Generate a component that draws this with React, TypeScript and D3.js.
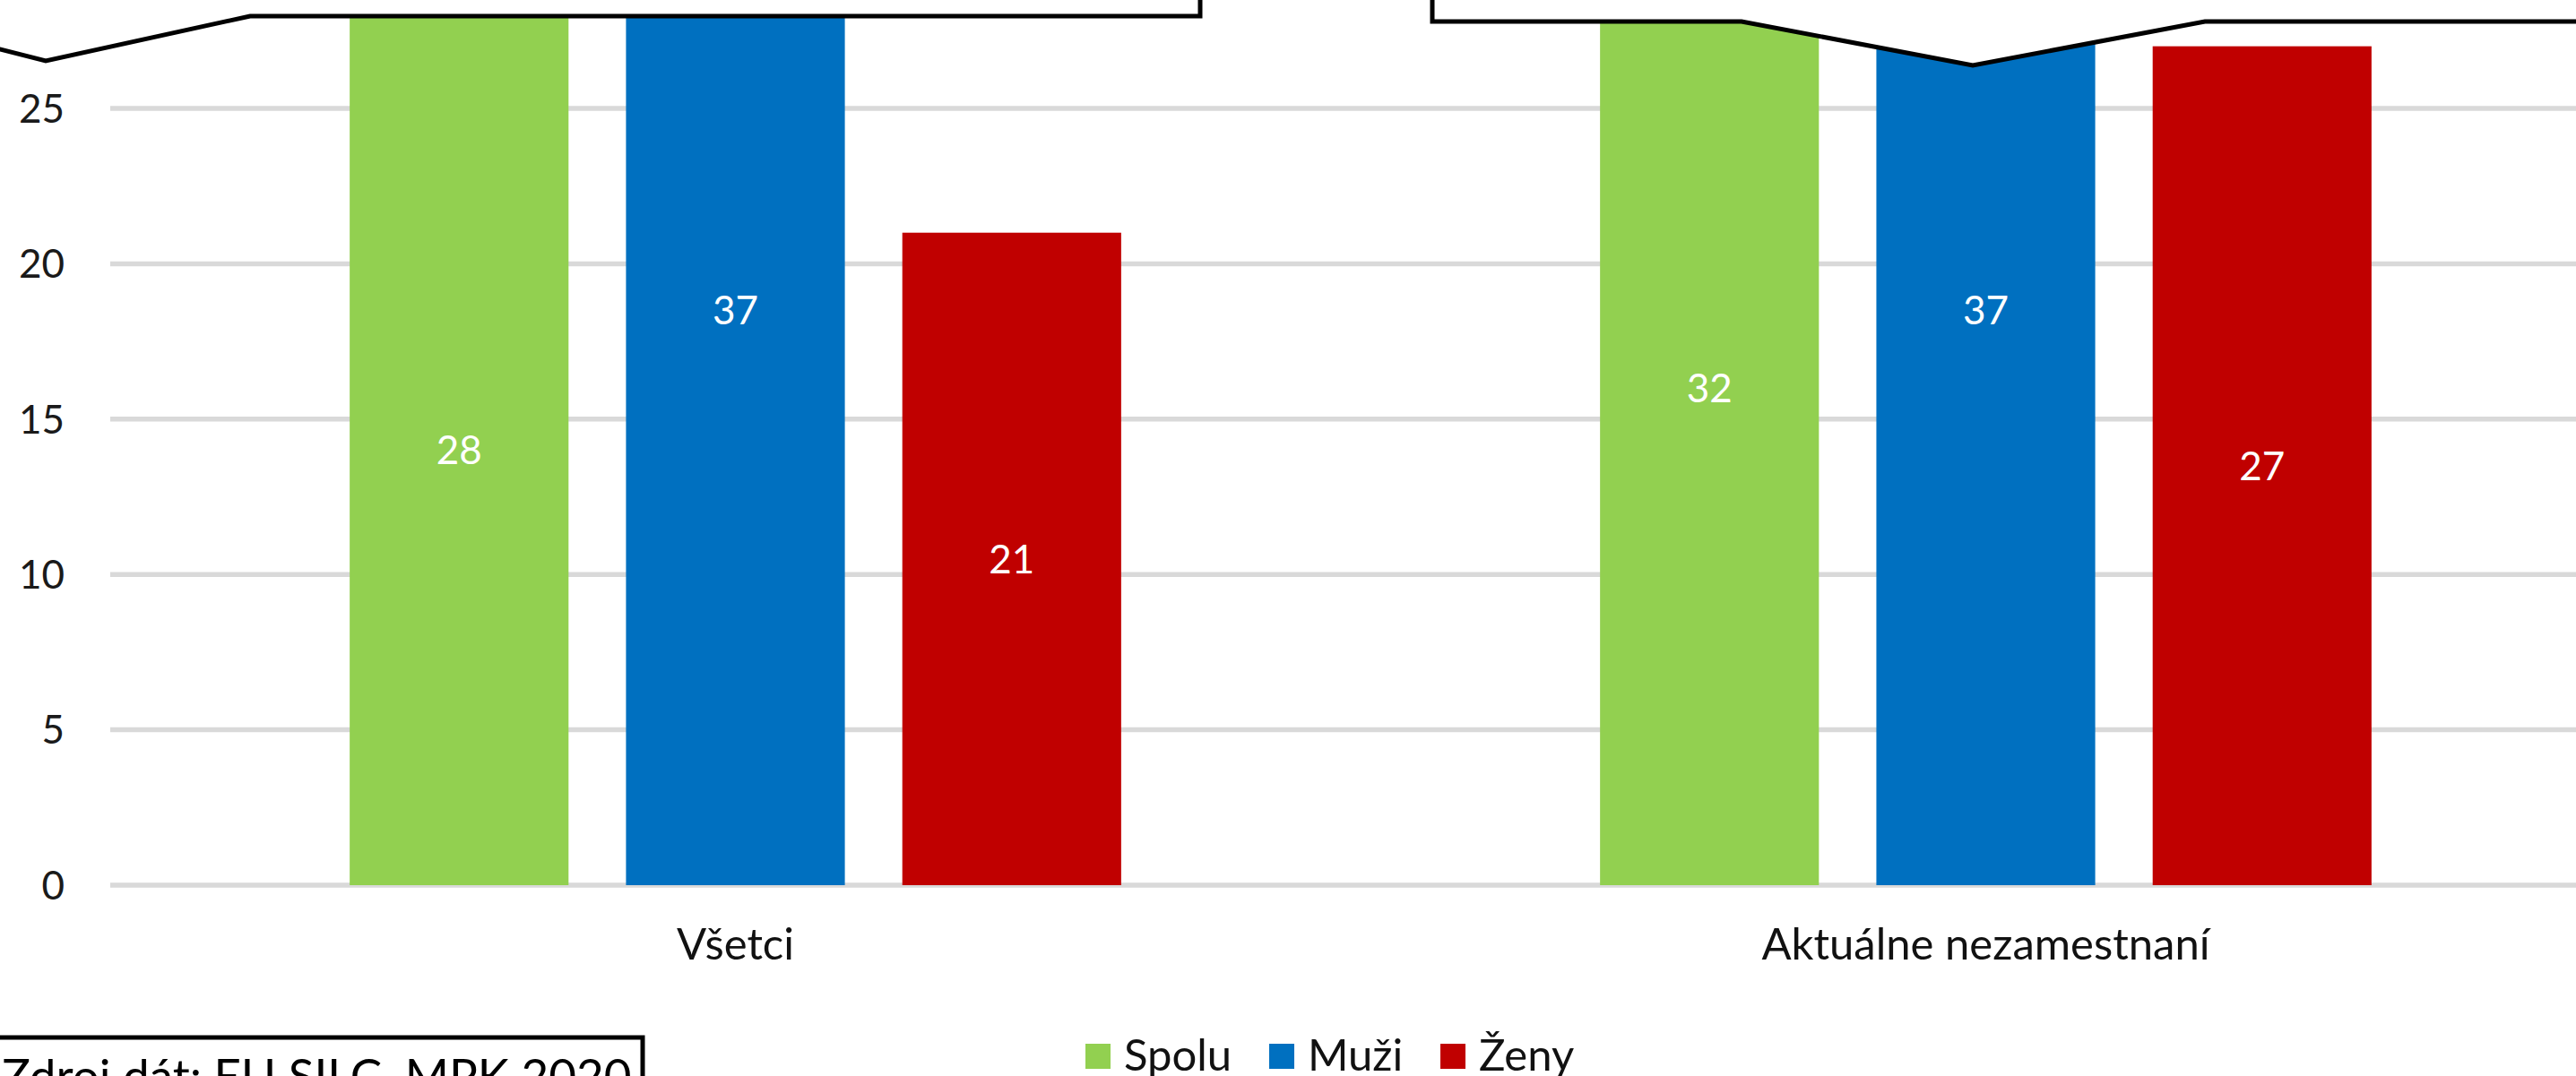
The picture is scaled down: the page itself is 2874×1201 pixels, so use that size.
import * as d3 from 'd3';
import { useEffect, useRef } from 'react';

const categories = ['Všetci', 'Aktuálne nezamestnaní'];
const seriesNames = ['Spolu', 'Muži', 'Ženy'];
const spolu = [28, 32];
const muzi = [37, 37];
const zeny = [21, 27];
const yTicks = [0, 5, 10, 15, 20, 25];
const colors = ['#92D050', '#0070C0', '#C00000'];
const sourceText = 'Zdroj dát: EU SILC, MPK 2020';

const W = 2874;
const H = 1201;
const FONT = 'Lato, "Open Sans", sans-serif';

export default function App() {
  const ref = useRef<SVGSVGElement | null>(null);

  useEffect(() => {
    const values = [spolu, muzi, zeny];
    const rows = categories.map((c, i) => ({
      category: c,
      items: seriesNames.map((s, j) => ({ key: s, value: values[j][i], color: colors[j] })),
    }));

    const plotLeft = 123;
    const x0 = d3.scaleBand().domain(categories).range([plotLeft, 2913]).paddingInner(0.383).paddingOuter(0.1915);
    const x1 = d3.scaleBand().domain(seriesNames).range([0, x0.bandwidth()]).paddingInner(0.208);
    const y = d3.scaleLinear().domain([0, 25]).range([988, 121]);

    const svg = d3.select(ref.current);
    svg.selectAll('*').remove();

    // gridlines
    svg
      .append('g')
      .selectAll('line')
      .data(yTicks)
      .join('line')
      .attr('x1', plotLeft)
      .attr('x2', W)
      .attr('y1', (d) => y(d))
      .attr('y2', (d) => y(d))
      .attr('stroke', '#d9d9d9')
      .attr('stroke-width', 5.5);

    // tick labels
    svg
      .append('g')
      .attr('font-family', FONT)
      .attr('font-size', 44)
      .attr('fill', '#1a1a1a')
      .attr('text-anchor', 'end')
      .selectAll('text')
      .data(yTicks)
      .join('text')
      .attr('x', 72)
      .attr('y', (d) => y(d))
      .attr('dy', '0.36em')
      .text((d) => d);

    // bars
    const groups = svg
      .append('g')
      .selectAll('g')
      .data(rows)
      .join('g')
      .attr('transform', (d) => `translate(${x0(d.category)},0)`);

    groups
      .selectAll('rect')
      .data((d) => d.items)
      .join('rect')
      .attr('x', (d) => x1(d.key))
      .attr('width', x1.bandwidth())
      .attr('y', (d) => y(d.value))
      .attr('height', (d) => y(0) - y(d.value))
      .attr('fill', (d) => d.color);

    groups
      .selectAll('text')
      .data((d) => d.items)
      .join('text')
      .attr('x', (d) => x1(d.key) + x1.bandwidth() / 2)
      .attr('y', (d) => (y(0) + y(d.value)) / 2)
      .attr('dy', '0.36em')
      .attr('text-anchor', 'middle')
      .attr('font-family', FONT)
      .attr('font-size', 44)
      .attr('fill', '#fff')
      .text((d) => d.value);

    // category labels
    svg
      .append('g')
      .selectAll('text')
      .data(categories)
      .join('text')
      .attr('x', (d) => x0(d) + x0.bandwidth() / 2)
      .attr('y', 1071)
      .attr('text-anchor', 'middle')
      .attr('font-family', FONT)
      .attr('font-size', 49)
      .attr('fill', '#111')
      .text((d) => d);

    // axis break shapes (white filled, black outline)
    const breakLeft: [number, number][] = [
      [-10, -10],
      [-10, 55],
      [0, 55],
      [51, 68],
      [279, 18],
      [1339, 18],
      [1339, -10],
    ];
    const breakRight: [number, number][] = [
      [1598, -10],
      [1598, 24],
      [1943, 24],
      [2201, 73],
      [2460, 24],
      [2890, 24],
      [2890, -10],
    ];
    svg
      .append('g')
      .selectAll('path')
      .data([breakLeft, breakRight])
      .join('path')
      .attr('d', (d) => d3.line()(d) + 'Z')
      .attr('fill', '#fff')
      .attr('stroke', '#000')
      .attr('stroke-width', 5)
      .attr('stroke-linejoin', 'miter');

    // legend
    const legendX = [1211, 1416, 1607];
    const legend = svg
      .append('g')
      .selectAll('g')
      .data(seriesNames)
      .join('g')
      .attr('transform', (_, i) => `translate(${legendX[i]},1165)`);
    legend
      .append('rect')
      .attr('width', 28)
      .attr('height', 28)
      .attr('fill', (_, i) => colors[i]);
    legend
      .append('text')
      .attr('x', 43)
      .attr('y', 30)
      .attr('font-family', FONT)
      .attr('font-size', 49)
      .attr('fill', '#111')
      .text((d) => d);

    // source box
    const src = svg.append('g');
    src
      .append('rect')
      .attr('x', -10)
      .attr('y', 1158)
      .attr('width', 727)
      .attr('height', 80)
      .attr('fill', '#fff')
      .attr('stroke', '#000')
      .attr('stroke-width', 5);
    src
      .append('text')
      .attr('x', 2)
      .attr('y', 1220)
      .attr('font-family', FONT)
      .attr('font-size', 53)
      .attr('fill', '#000')
      .text(sourceText);
  }, []);

  return (
    <svg
      ref={ref}
      width={W}
      height={H}
      style={{ position: 'absolute', left: 0, top: 0, background: '#fff' }}
    />
  );
}
